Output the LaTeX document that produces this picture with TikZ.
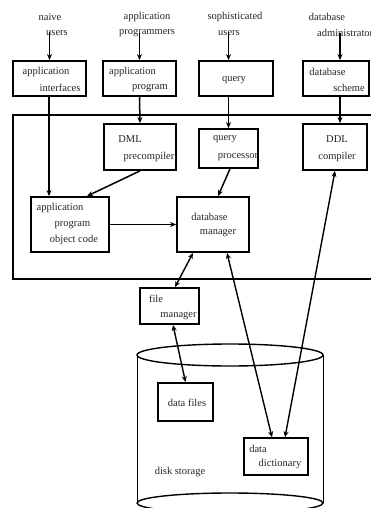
\documentclass[tikz,border=0pt]{standalone}
\usepackage{fontspec}
\setmainfont{Liberation Serif}
\usetikzlibrary{arrows.meta}
\begin{document}
\begin{tikzpicture}[x=1pt,y=-1pt,
  box/.style={draw,line width=1.8pt,rectangle,inner sep=0pt},
  lbl/.style={inner sep=0pt,font=\fontsize{10.5}{12}\selectfont,text=black!85},
  arr/.style={line width=1.5pt,-{Stealth[length=6pt,width=5pt]}},
  darr/.style={line width=1.4pt,{Stealth[length=6pt,width=5pt]}-{Stealth[length=6pt,width=5pt]}}]
\useasboundingbox (0,0) rectangle (371,508);
\fill[white] (0,0) rectangle (371,508);

% top labels
\node[lbl] (n1) at (50,17) {naive};
\node[lbl] (u1) at (57,33) {users};
\node[lbl] (n2) at (147,17) {application};
\node[lbl] (u2) at (147,33) {programmers};
\node[lbl] (n3) at (235,17) {sophisticated};
\node[lbl] (u3) at (229,33) {users};
\node[lbl] (n4) at (327,17) {database};
\node[lbl,anchor=west] (u4) at (317,33) {administrator};

% top boxes
\node[box,minimum width=73pt,minimum height=35pt] (ai) at (49.5,78.5) {};
\node[lbl] (ai1) at (46,72) {application};
\node[lbl] (ai2) at (60,88) {interfaces};
\node[box,minimum width=73pt,minimum height=35pt] (ap) at (139.5,78.5) {};
\node[lbl] (ap1) at (132.5,72) {application};
\node[lbl] (ap2) at (150,88) {program};
\node[box,minimum width=74pt,minimum height=35pt] (q) at (236,78.5) {};
\node[lbl] (q1) at (234,80) {query};
\node[box,minimum width=66pt,minimum height=35pt] (ds) at (336,78.5) {};
\node[lbl] (ds1) at (327.5,72) {database};
\node[lbl] (ds2) at (349,88) {scheme};

% system frame
\node[draw,line width=1.6pt,inner sep=0pt,minimum width=372pt,minimum height=164pt] (sys) at (199,197) {};

% inner boxes
\node[box,minimum width=72pt,minimum height=46pt] (dml) at (140,147) {};
\node[lbl] (dml1) at (130,139) {DML};
\node[lbl] (dml2) at (149,157) {precompiler};
\node[box,minimum width=59pt,minimum height=39pt] (qp) at (228.5,148.5) {};
\node[lbl] (qp1) at (225,139) {query};
\node[lbl] (qp2) at (238,157) {processor};
\node[box,minimum width=64pt,minimum height=46pt] (ddl) at (335,147) {};
\node[lbl] (ddl1) at (337,139) {DDL};
\node[lbl] (ddl2) at (337,157) {compiler};
\node[box,minimum width=78pt,minimum height=55pt] (apo) at (70,224.5) {};
\node[lbl] (apo1) at (60,208) {application};
\node[lbl] (apo2) at (72.5,225) {program};
\node[lbl] (apo3) at (74,240) {object code};
\node[box,minimum width=72pt,minimum height=55pt] (dbm) at (213,224.5) {};
\node[lbl] (dbm1) at (209.5,217) {database};
\node[lbl] (dbm2) at (218,233) {manager};

% lower boxes
\node[box,minimum width=59pt,minimum height=36pt] (fm) at (169.5,306) {};
\node[lbl] (fm1) at (156,299) {file};
\node[lbl] (fm2) at (178.5,316) {manager};

% cylinder
\draw[line width=0.8pt] (137,355) -- (137,503);
\draw[line width=0.8pt] (323,355) -- (323,503);
\draw[line width=1.4pt,fill=white] (230,355) ellipse [x radius=93pt,y radius=11pt];
\draw[line width=1.4pt] (230,503) ellipse [x radius=93pt,y radius=10pt];
\node[lbl] (disk) at (180,472) {disk storage};

\node[box,minimum width=55pt,minimum height=38pt] (df) at (185.5,402) {};
\node[lbl] (df1) at (187,403) {data files};
\node[box,line width=1.4pt,minimum width=64pt,minimum height=37pt,fill=white] (dd) at (276,456.5) {};
\node[lbl] (dd1) at (258,449) {data};
\node[lbl] (dd2) at (280,464) {dictionary};

% connectors
\draw[arr] ([yshift=4pt]u1.south -| ai.north) -- (ai.north);
\draw[arr] ([yshift=4pt]u2.south -| ap.north) -- (ap.north);
\draw[arr] ([yshift=4pt]u3.south -| qp.north) -- (qp.north |- q.north);
\draw[arr] ([yshift=4pt,xshift=4pt]u4.south -| ds.north) -- ([xshift=4pt]ds.north);
\draw[arr] ([xshift=-0.5pt]ai.south) -- ([xshift=-0.5pt]ai.south |- apo.north);
\draw[arr] (ap.south) -- (dml.north);
\draw[arr] (qp.north |- q.south) -- (qp.north);
\draw[arr] ([xshift=4pt]ds.south) -- ([xshift=5pt]ddl.north);
\draw[arr] (dml.south) -- ([xshift=17pt]apo.north);
\draw[arr] ([xshift=1.5pt]qp.south) -- ([xshift=5pt]dbm.north);
\draw[arr] (apo.east) -- (dbm.west);
\draw[darr] ([xshift=5.5pt]fm.north) -- ([xshift=-20pt]dbm.south);
\draw[darr] ([xshift=3.5pt]fm.south) -- (df.north);
\draw[darr] ([xshift=14pt]dbm.south) -- ([xshift=-4pt]dd.north);
\draw[darr] (ddl.south) -- ([xshift=9pt]dd.north);
\end{tikzpicture}
\end{document}
